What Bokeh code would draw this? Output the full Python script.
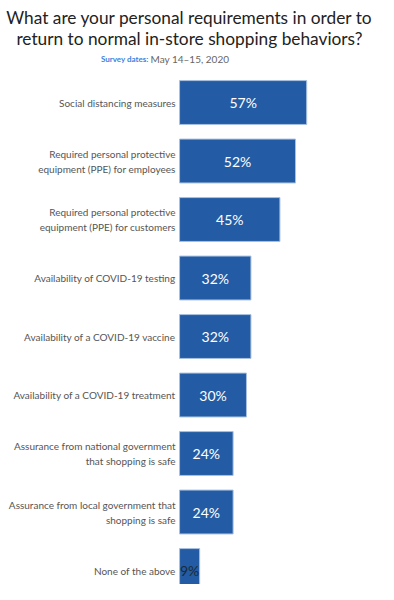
from bokeh.plotting import figure
from bokeh.models import ColumnDataSource, Range1d, Label
from bokeh.core.properties import value
from bokeh.embed import file_html
from bokeh.resources import INLINE

categories = [
    "Social distancing measures",
    "Required personal protective\nequipment (PPE) for employees",
    "Required personal protective\nequipment (PPE) for customers",
    "Availability of COVID-19 testing",
    "Availability of a COVID-19 vaccine",
    "Availability of a COVID-19 treatment",
    "Assurance from national government\nthat shopping is safe",
    "Assurance from local government that\nshopping is safe",
    "None of the above",
]
values = [57, 52, 45, 32, 32, 30, 24, 24, 9]
title_lines = ["What are your personal requirements in order to",
               "return to normal in-store shopping behaviors?"]
survey_label = "Survey dates:"
survey_dates = "May 14\u201315, 2020"

W, H = 378, 584
FONT = "Lato"

idx = list(range(len(categories)))
src = ColumnDataSource(dict(
    y=idx,
    cat=categories,
    val=values,
    mid=[v / 2 for v in values],
    lbl=[f"{v}%" for v in values],
    lcol=["#ffffff" if v > 12 else "#1a2a3a" for v in values],
))

p = figure(width=W, height=H, output_backend="svg", toolbar_location=None,
           x_range=Range1d(-80.3, 89.2), y_range=Range1d(8.239, -1.744),
           min_border=0, outline_line_color=None)
p.axis.visible = False
p.grid.visible = False

p.hbar(y="y", left=0, right="val", height=0.75, source=src,
       fill_color="#235ca4", line_color="#a9c0e0", line_width=1)

p.text(x=0, y="y", text="cat", source=src, x_offset=-4,
       text_align="right", text_baseline="middle",
       text_font=value(FONT), text_font_size="10px",
       text_color="#555555", text_line_height=1.25)

p.text(x="mid", y="y", text="lbl", source=src,
       text_align="center", text_baseline="middle",
       text_font=value(FONT), text_font_size="14px",
       text_color="lcol")

for i, t in enumerate(title_lines):
    p.add_layout(Label(x=W / 2, y=H - 17 - 21 * i, x_units="screen", y_units="screen",
                       text=t, text_align="center", text_baseline="alphabetic",
                       text_font=FONT, text_font_size="17.3px", text_color="#222222"))

p.add_layout(Label(x=148, y=H - 58, x_units="screen", y_units="screen",
                   text=survey_label, text_align="right", text_baseline="middle",
                   text_font=FONT, text_font_size="8px", text_font_style="bold",
                   text_color="#3b82e0"))
p.add_layout(Label(x=150, y=H - 58, x_units="screen", y_units="screen",
                   text=survey_dates, text_align="left", text_baseline="middle",
                   text_font=FONT, text_font_size="10px", text_color="#666666"))

open("out.html", "w").write(file_html(p, INLINE))
